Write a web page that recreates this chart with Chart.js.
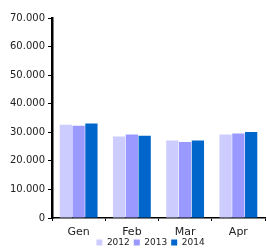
<!DOCTYPE html>
<html>
<head>
<meta charset="utf-8">
<script src="https://cdn.jsdelivr.net/npm/chart.js@4"></script>
<style>
  html, body { margin: 0; padding: 0; background: #fff; }
  #wrap { width: 267px; height: 250px; }
</style>
</head>
<body>
<div id="wrap"><canvas id="chart"></canvas></div>
<script>
/* data */
const months = ['Gen', 'Feb', 'Mar', 'Apr'];
const years = ['2012', '2013', '2014'];
const values2012 = [32600, 28500, 27100, 29200];
const values2013 = [32300, 29200, 26600, 29600];
const values2014 = [33100, 28800, 27100, 30100];
const yTicks = [0, 10000, 20000, 30000, 40000, 50000, 60000, 70000];

const colors = ['#ccccff', '#9999ff', '#0066cc'];

Chart.defaults.font.family = 'DejaVu Sans';
Chart.defaults.font.size = 10;
Chart.defaults.color = '#222';

// keep the legend strip short, pull its top up and nudge it under the plot
const compactLegend = {
  id: 'compactLegend',
  afterInit(chart) {
    const lg = chart.legend;
    const fit = lg.fit.bind(lg);
    lg.fit = function () { fit(); this.height = 12; };
  },
  afterLayout(chart) {
    chart.legend.top -= 4;
    chart.legend.left += 18;
    chart.legend.right += 18;
  }
};

const ctx = document.getElementById('chart').getContext('2d');

new Chart(ctx, {
  type: 'bar',
  data: {
    labels: months,
    datasets: [values2012, values2013, values2014].map((vals, i) => ({
      label: years[i],
      data: vals,
      backgroundColor: colors[i],
      barPercentage: 0.96,
      categoryPercentage: 0.72
    }))
  },
  plugins: [compactLegend],
  options: {
    responsive: true,
    maintainAspectRatio: false,
    animation: false,
    layout: { padding: { top: 18, right: 2, left: 0, bottom: 0 } },
    plugins: {
      tooltip: { enabled: false },
      legend: {
        position: 'bottom',
        labels: { boxWidth: 6, boxHeight: 6, padding: 4, font: { size: 9 } }
      }
    },
    scales: {
      x: {
        afterFit: axis => { axis.height = 20; },
        grid: { offset: true, drawOnChartArea: false, tickLength: 3, color: '#000' },
        border: { color: '#000', width: 1.5 },
        ticks: { padding: 5, font: { size: 11 } }
      },
      y: {
        min: 0,
        max: 70000,
        afterBuildTicks: axis => { axis.ticks = yTicks.map(v => ({ value: v })); },
        afterFit: axis => { axis.width = 52; },
        grid: { drawOnChartArea: false, tickLength: 4, color: '#000' },
        border: { color: '#000', width: 2.5 },
        ticks: {
          padding: 3,
          callback: v => v.toLocaleString('it-IT').replace(/\s/g, '.')
        }
      }
    }
  }
});
</script>
</body>
</html>
